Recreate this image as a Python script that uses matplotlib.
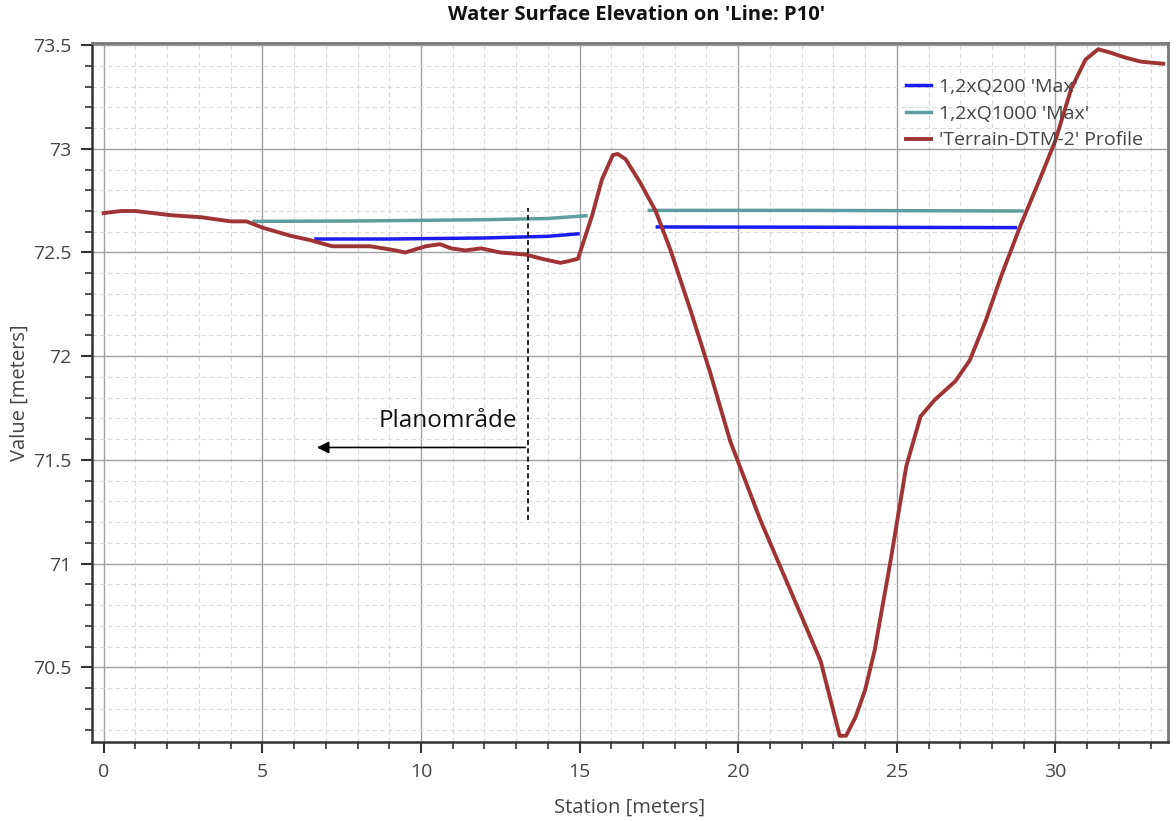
import numpy as np
import matplotlib.pyplot as plt
from matplotlib.ticker import MultipleLocator

# terreng-profil (stasjon, kote)
terr_x = [0.0, 0.55, 1.0, 2.1, 3.07, 4.0, 4.5, 5.0, 5.9, 6.5, 7.2, 8.4, 9.2, 9.5,
          10.15, 10.6, 10.95, 11.4, 11.9, 12.5, 13.3, 13.8, 14.4, 14.7, 14.95,
          15.4, 15.7, 16.05, 16.2, 16.45, 16.9, 17.4, 17.87, 18.5, 19.1, 19.75,
          20.7, 21.65, 22.6, 23.2, 23.4, 23.7, 24.0, 24.3, 24.8, 25.3, 25.75,
          26.2, 26.85, 27.3, 27.8, 28.3, 28.9, 29.5, 30.0, 30.5, 30.95, 31.35,
          31.7, 32.2, 32.7, 33.4]
terr_y = [72.69, 72.70, 72.70, 72.68, 72.67, 72.65, 72.65, 72.62, 72.58, 72.56,
          72.53, 72.53, 72.51, 72.50, 72.53, 72.54, 72.52, 72.51, 72.52, 72.50,
          72.49, 72.47, 72.45, 72.46, 72.47, 72.68, 72.85, 72.97, 72.975, 72.95,
          72.84, 72.70, 72.51, 72.22, 71.93, 71.59, 71.21, 70.87, 70.53, 70.17,
          70.17, 70.26, 70.39, 70.58, 71.01, 71.47, 71.71, 71.79, 71.88, 71.98,
          72.17, 72.39, 72.63, 72.85, 73.04, 73.29, 73.43, 73.48, 73.465, 73.44,
          73.42, 73.41]

# vannspeil 1,2xQ200 (nan = brudd)
q200_x = [6.69, 9.0, 12.0, 14.0, 14.95, np.nan, 17.45, 22.0, 28.74]
q200_y = [72.565, 72.565, 72.57, 72.578, 72.59, np.nan, 72.623, 72.622, 72.62]

# vannspeil 1,2xQ1000
q1000_x = [4.74, 8.0, 12.0, 14.0, 15.2, np.nan, 17.2, 22.0, 28.95]
q1000_y = [72.65, 72.652, 72.658, 72.664, 72.677, np.nan, 72.703, 72.703, 72.70]

plt.rcParams['font.family'] = ['Open Sans', 'DejaVu Sans']

fig = plt.figure(figsize=(11.76, 8.21), dpi=100)
ax = fig.add_axes([92/1176, 1 - 742/821, (1168 - 92)/1176, (742 - 43)/821])

ax.plot(q200_x, q200_y, color='#1c1cf0', lw=2.5, label="1,2xQ200 'Max'")
ax.plot(q1000_x, q1000_y, color='#5f9e9e', lw=2.5, label="1,2xQ1000 'Max'")
ax.plot(terr_x, terr_y, color='#9e3434', lw=2.8, label="'Terrain-DTM-2' Profile")

ax.set_xlim(-0.37, 33.55)
ax.set_ylim(70.14, 73.51)

ax.xaxis.set_major_locator(MultipleLocator(5))
ax.xaxis.set_minor_locator(MultipleLocator(1))
ax.yaxis.set_major_locator(MultipleLocator(0.5))
ax.yaxis.set_minor_locator(MultipleLocator(0.1))
ax.set_yticks([70.5, 71, 71.5, 72, 72.5, 73, 73.5])
ax.set_yticklabels(['70.5', '71', '71.5', '72', '72.5', '73', '73.5'])

ax.grid(which='major', color='#a0a0a0', lw=1.0)
ax.grid(which='minor', color='#dadada', lw=0.8, ls=(0, (4, 3)))
ax.set_axisbelow(True)

ax.tick_params(which='major', direction='out', length=8, width=1.5, color='#333333',
               labelsize=14, labelcolor='#444444', pad=7)
ax.tick_params(which='minor', direction='out', length=5, width=1.2, color='#333333')
for s in ['left', 'bottom']:
    ax.spines[s].set_color('#333333')
    ax.spines[s].set_linewidth(1.8)
for s in ['top', 'right']:
    ax.spines[s].set_color('#777777')
    ax.spines[s].set_linewidth(2)

ax.set_xlabel('Station [meters]', fontsize=14.5, color='#444444', labelpad=12)
ax.set_ylabel('Value [meters]', fontsize=14.5, color='#444444', labelpad=2)
fig.suptitle("Water Surface Elevation on 'Line: P10'", x=637/1176, y=1 - 5/821,
             fontsize=14.5, fontweight='bold', color='#111111')

ax.legend(loc='upper right', bbox_to_anchor=(0.993, 0.975), frameon=False, fontsize=14,
          handlelength=1.3, handletextpad=0.4, labelspacing=0.45, labelcolor='#444444')

# planområde-markering
ax.plot([13.37, 13.37], [71.21, 72.715], color='black', lw=1.2, ls=(0, (3, 2)))
ax.annotate('', xy=(6.63, 71.56), xytext=(13.37, 71.56),
            arrowprops=dict(arrowstyle='-|>', color='black', lw=1.2, mutation_scale=18))
ax.text(10.85, 71.69, 'Planområde', ha='center', va='center', fontsize=17.5, color='#111111')

fig.savefig('out.png', dpi=100)
